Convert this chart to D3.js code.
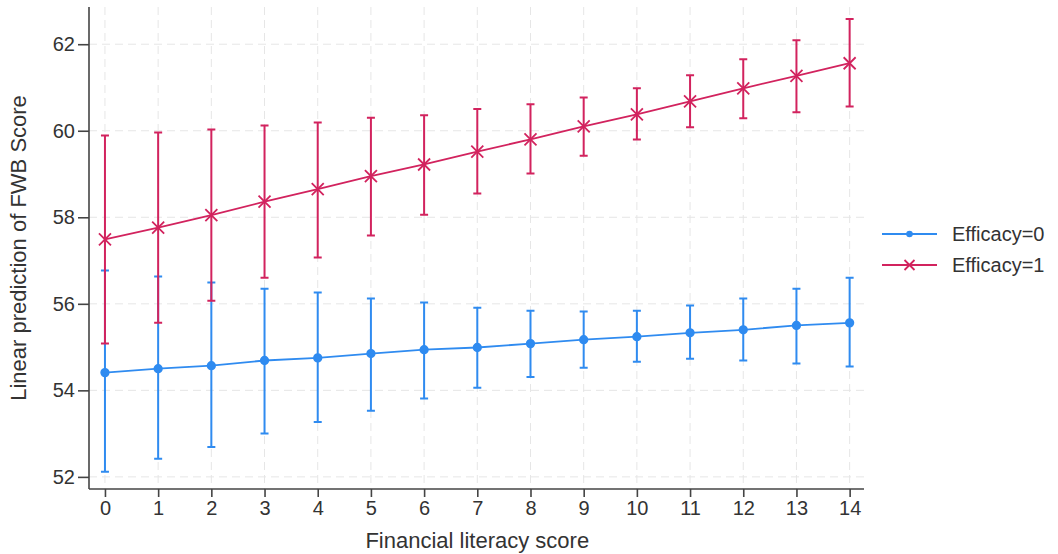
<!DOCTYPE html>
<html>
<head>
<meta charset="utf-8">
<script src="https://cdn.jsdelivr.net/npm/d3@7"></script>
<style>
  body { margin: 0; background: #fff; }
  text { font-family: "Liberation Sans", Arial, sans-serif; fill: #333; }
</style>
</head>
<body>
<div id="grafico"></div>
<script>
// data
var scores = [0,1,2,3,4,5,6,7,8,9,10,11,12,13,14];
var eff0 = [54.41,54.50,54.57,54.69,54.75,54.85,54.94,54.99,55.08,55.17,55.24,55.33,55.40,55.50,55.56];
var eff0Lo = [52.12,52.42,52.69,53.00,53.27,53.53,53.81,54.06,54.31,54.52,54.66,54.73,54.69,54.62,54.55];
var eff0Hi = [56.77,56.63,56.49,56.35,56.26,56.12,56.03,55.91,55.84,55.82,55.84,55.96,56.12,56.35,56.60];
var eff1 = [57.49,57.76,58.05,58.36,58.65,58.95,59.22,59.52,59.80,60.10,60.38,60.68,60.98,61.27,61.56];
var eff1Lo = [55.08,55.56,56.07,56.60,57.07,57.58,58.06,58.55,59.01,59.42,59.80,60.08,60.29,60.43,60.56];
var eff1Hi = [59.89,59.96,60.03,60.12,60.19,60.30,60.36,60.50,60.61,60.77,60.98,61.28,61.65,62.09,62.58];
var yTicks = [52,54,56,58,60,62];
var legendLabels = ["Efficacy=0", "Efficacy=1"];

var W = 1058, H = 554;
var margin = {top: 7, right: 194, bottom: 65, left: 89};
var width = W - margin.left - margin.right,
    height = H - margin.top - margin.bottom;

var blue = "#2f8bf0", red = "#d2235e";

var svg = d3.select("#grafico").append("svg")
  .attr("width", W).attr("height", H);
var g = svg.append("g")
  .attr("transform", "translate(" + margin.left + "," + margin.top + ")");

var x = d3.scaleLinear().domain([-0.3, 14.27]).range([0, width]);
var y = d3.scaleLinear().domain([51.72, 62.86]).range([height, 0]);

// grid
g.append("g").selectAll("line").data(scores).enter().append("line")
  .attr("x1", d => x(d)).attr("x2", d => x(d))
  .attr("y1", 0).attr("y2", height)
  .attr("stroke", "#e6e6e6").attr("stroke-dasharray", "8,5");
g.append("g").selectAll("line").data(yTicks).enter().append("line")
  .attr("x1", 0).attr("x2", width)
  .attr("y1", d => y(d)).attr("y2", d => y(d))
  .attr("stroke", "#e6e6e6").attr("stroke-dasharray", "8,5");

// axes
var xAxis = g.append("g").attr("transform", "translate(0," + height + ")")
  .call(d3.axisBottom(x).tickValues(scores).tickSize(8).tickPadding(4).tickSizeOuter(0));
var yAxis = g.append("g")
  .call(d3.axisLeft(y).tickValues(yTicks).tickSize(11).tickPadding(3).tickSizeOuter(0));
[xAxis, yAxis].forEach(function(a) {
  a.select(".domain").attr("stroke", "#444").attr("stroke-width", 1.6);
  a.selectAll(".tick line").attr("stroke", "#444").attr("stroke-width", 1.6);
  a.selectAll(".tick text").attr("font-size", 20).style("fill", "#333")
   .attr("font-family", "Liberation Sans, Arial, sans-serif");
});
xAxis.select(".domain").attr("d", "M0,0H" + width);
yAxis.select(".domain").attr("d", "M0,0V" + height);

// titles
svg.append("text")
  .attr("x", margin.left + x(7)).attr("y", 548)
  .attr("text-anchor", "middle").attr("font-size", 22)
  .text("Financial literacy score");
svg.append("text")
  .attr("transform", "translate(26," + (margin.top + height / 2) + ") rotate(-90)")
  .attr("text-anchor", "middle").attr("font-size", 22)
  .text("Linear prediction of FWB Score");

function series(vals, lo, hi, color, marker, filled) {
  var s = g.append("g");
  // error bars
  s.selectAll(".ci").data(scores).enter().append("path")
    .attr("fill", "none").attr("stroke", color).attr("stroke-width", 2)
    .attr("d", function(d, i) {
      var cx = x(d), y0 = y(lo[i]), y1 = y(hi[i]);
      return "M" + (cx - 4) + "," + y1 + "H" + (cx + 4) +
             "M" + cx + "," + y1 + "V" + y0 +
             "M" + (cx - 4) + "," + y0 + "H" + (cx + 4);
    });
  s.append("path").datum(vals)
    .attr("fill", "none").attr("stroke", color).attr("stroke-width", 1.8)
    .attr("d", d3.line().x((d, i) => x(scores[i])).y(d => y(d)));
  s.selectAll(".m").data(vals).enter().append("path")
    .attr("transform", (d, i) => "translate(" + x(scores[i]) + "," + y(d) + ")")
    .attr("d", marker)
    .attr("fill", filled ? color : "none")
    .attr("stroke", color).attr("stroke-width", 1.8);
}
var circ = d3.symbol().type(d3.symbolCircle).size(44)();
var cross = "M-6,-6L6,6M-6,6L6,-6";

series(eff0, eff0Lo, eff0Hi, blue, circ, true);
series(eff1, eff1Lo, eff1Hi, red, cross, false);

// legend
var leg = svg.append("g");
var legColors = [blue, red];
var legMarks = [d3.symbol().type(d3.symbolCircle).size(18)(), "M-5,-5L5,5M-5,5L5,-5"];
legendLabels.forEach(function(lab, i) {
  var ly = 234 + i * 31;
  leg.append("line").attr("x1", 882).attr("x2", 937).attr("y1", ly).attr("y2", ly)
    .attr("stroke", legColors[i]).attr("stroke-width", 1.8);
  leg.append("path").attr("transform", "translate(909.5," + ly + ")")
    .attr("d", legMarks[i]).attr("fill", i === 0 ? legColors[i] : "none")
    .attr("stroke", legColors[i]).attr("stroke-width", 1.8);
  leg.append("text").attr("x", 952).attr("y", ly).attr("dy", "0.35em")
    .attr("font-size", 20).text(lab);
});
</script>
</body>
</html>
